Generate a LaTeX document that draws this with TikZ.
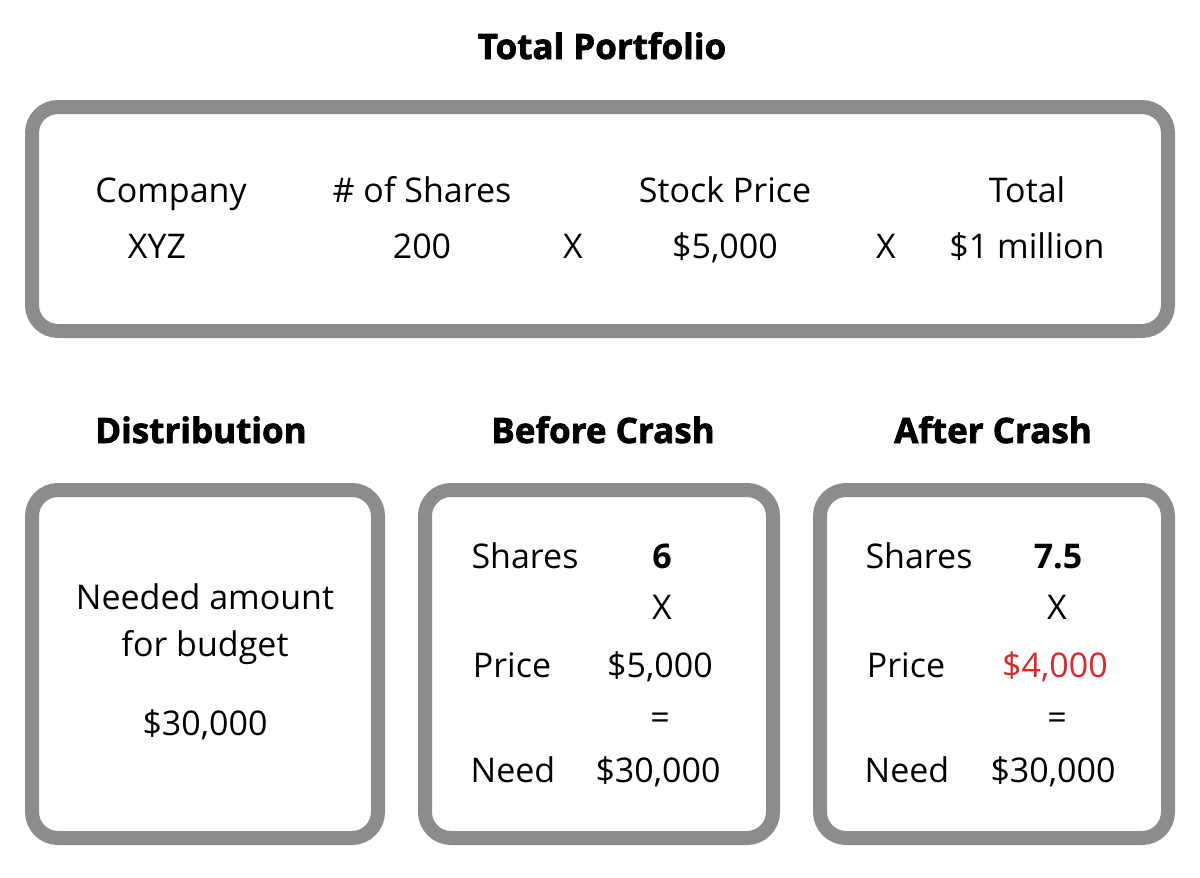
\documentclass[tikz,border=0pt]{standalone}
\usepackage{fontspec}
\setmainfont{Open Sans}
\newfontfamily\heavyfont{Open Sans}[BoldFeatures={FakeBold=2}]
\definecolor{boxgray}{RGB}{140,140,140}
\definecolor{pricered}{RGB}{220,40,40}
\begin{document}
\begin{tikzpicture}[x=1pt,y=-1pt,
  panel/.style={draw=boxgray,line width=14pt,rounded corners=26pt,fill=white},
  txt/.style={font=\fontsize{34}{40}\selectfont,inner sep=0pt,anchor=base},
  bnum/.style={txt,font=\fontsize{34}{40}\selectfont\bfseries},
  ttl/.style={font=\fontsize{35}{41}\selectfont\heavyfont\bfseries,inner sep=0pt,anchor=base}]
\useasboundingbox (0,0) rectangle (1200,878);
\fill[white] (0,0) rectangle (1200,878);
% boxes
\draw[panel] (32,107) rectangle (1168,331);
\draw[panel] (32,490) rectangle (378,838);
\draw[panel] (425,490) rectangle (773,838);
\draw[panel] (820,490) rectangle (1168,838);
% titles
\node[ttl] (tp) at (602,59) {Total Portfolio};
\node[ttl] (dist) at (201,443) {Distribution};
\node[ttl] (bc) at (603,443) {Before Crash};
\node[ttl] (ac) at (993,443) {After Crash};
% top row
\node[txt] (h1) at (171,202) {Company};
\node[txt] (h2) at (422,202) {\# of Shares};
\node[txt] (h3) at (725,202) {Stock Price};
\node[txt] (h4) at (1027,202) {Total};
\node[txt] (r1) at (157,258) {XYZ};
\node[txt] (r2) at (422,258) {200};
\node[txt] (x1) at (573,258) {X};
\node[txt] (r3) at (725,258) {\$5,000};
\node[txt] (x2) at (886,258) {X};
\node[txt] (r4) at (1027,258) {\$1 million};
% distribution
\node[txt] (d1) at (205,609) {Needed amount};
\node[txt] (d2) at (205,656) {for budget};
\node[txt] (d3) at (205,735) {\$30,000};
% before crash
\node[txt] (b1) at (525,568) {Shares};
\node[bnum] (b2) at (662,568) {6};
\node[txt] (b3) at (662,619) {X};
\node[txt] (b4) at (512,677) {Price};
\node[txt] (b5) at (660,677) {\$5,000};
\node[txt] (b6) at (660,729) {=};
\node[txt] (b7) at (513,782) {Need};
\node[txt] (b8) at (658,782) {\$30,000};
% after crash
\node[txt] (a1) at (919,568) {Shares};
\node[bnum] (a2) at (1058,568) {7.5};
\node[txt] (a3) at (1057,619) {X};
\node[txt] (a4) at (906,677) {Price};
\node[txt,text=pricered] (a5) at (1055,677) {\$4,000};
\node[txt] (a6) at (1057,729) {=};
\node[txt] (a7) at (907,782) {Need};
\node[txt] (a8) at (1053,782) {\$30,000};
\end{tikzpicture}
\end{document}
